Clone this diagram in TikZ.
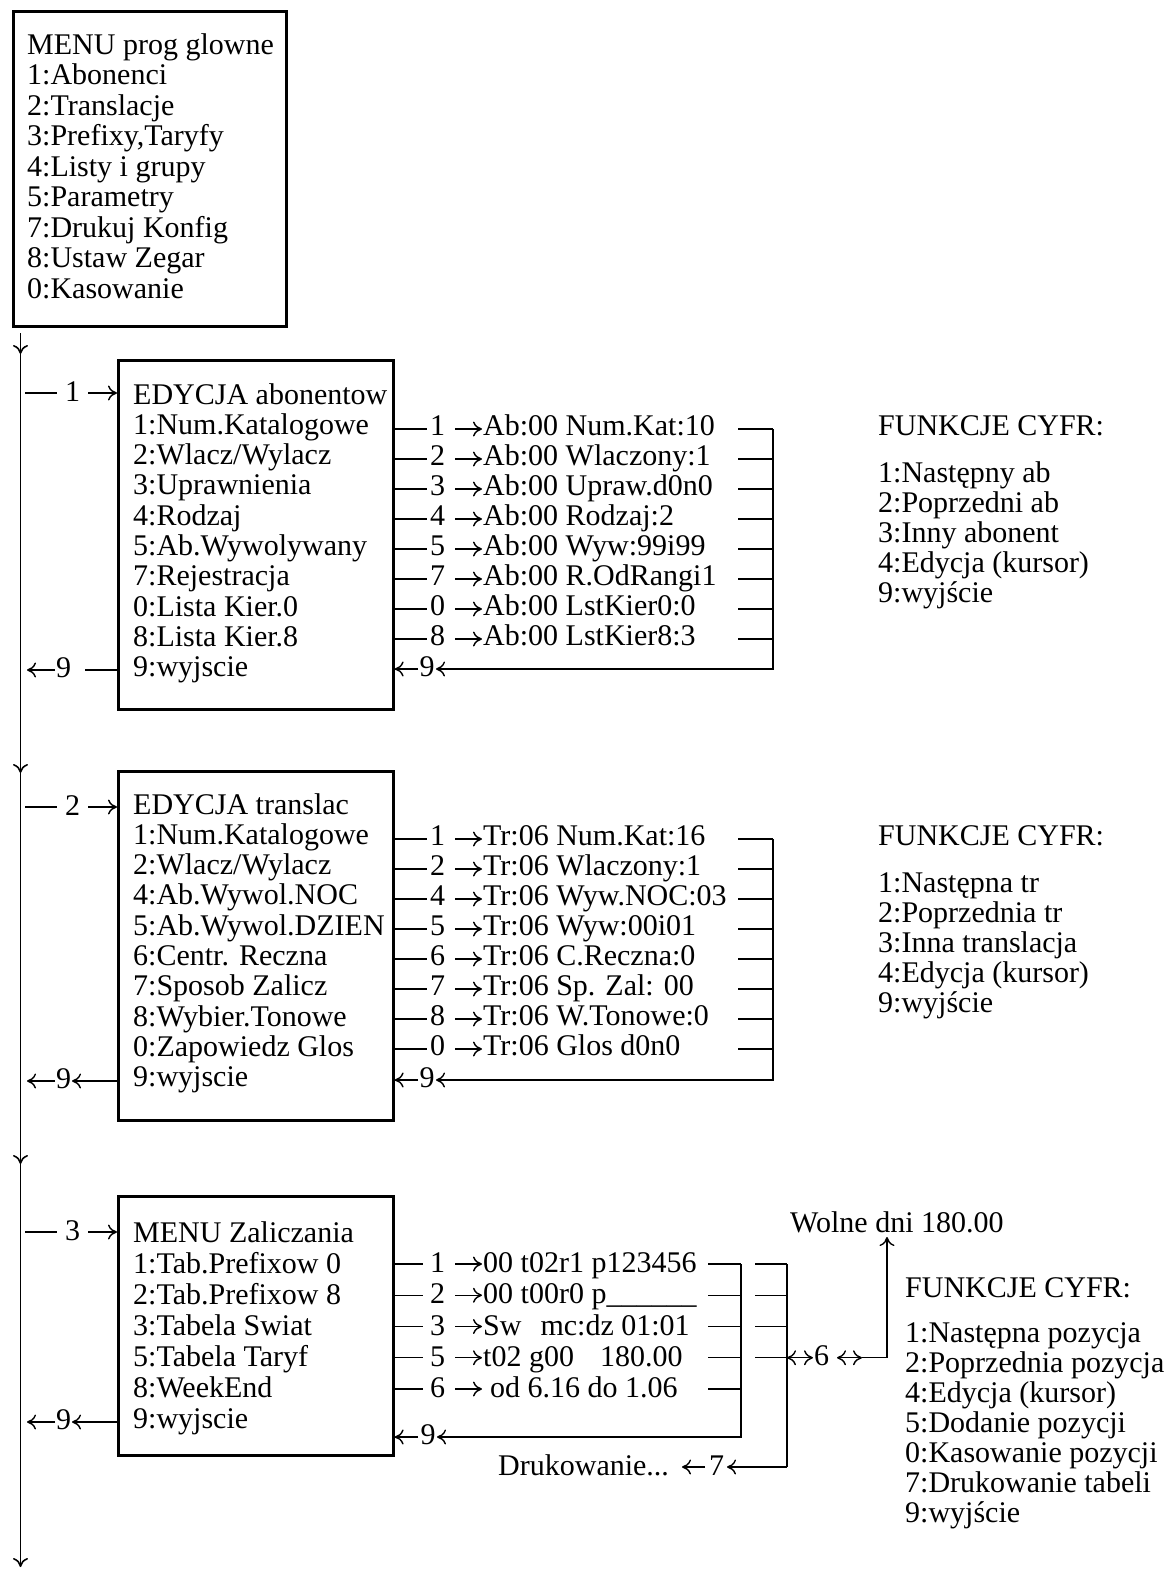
\documentclass[tikz,border=0pt]{standalone}
\usepackage{fontspec}
\setmainfont{Liberation Serif}
\usetikzlibrary{arrows.meta}
\tikzset{
  every node/.style={font=\fontsize{30}{30}\selectfont, inner sep=0pt},
  txt/.style={anchor=base west},
  lbl/.style={anchor=base},
  menubox/.style={draw, line width=2.6pt, rectangle, anchor=north west},
  con/.style={line width=1.4pt},
  mainln/.style={line width=1.6pt},
  tip/.style={-{To[length=9pt,width=15pt]}},
  dtip/.style={{To[length=9pt,width=15pt]}-{To[length=9pt,width=15pt]}},
}
\begin{document}
\begin{tikzpicture}[x=1pt,y=-1pt]
\useasboundingbox (0,0) rectangle (1175,1569);

% ---------------- boxes ----------------
\node[menubox, minimum width=273pt, minimum height=315pt] (top) at (12,10) {};
\node[menubox, minimum width=275pt, minimum height=349pt] (b1) at (117,359) {};
\node[menubox, minimum width=275pt, minimum height=349pt] (b2) at (117,770) {};
\node[menubox, minimum width=275pt, minimum height=259pt] (b3) at (117,1195) {};

% ---------------- box texts ----------------
\foreach \t [count=\i from 0] in {MENU prog glowne, 1:Abonenci, 2:Translacje, {3:Prefixy,Taryfy}, 4:Listy i grupy, 5:Parametry, 7:Drukuj Konfig, 8:Ustaw Zegar, 0:Kasowanie}
  \node[txt] (topt\i) at (27,{54+30.5*\i}) {\t};
\foreach \t [count=\i from 0] in {EDYCJA abonentow, 1:Num.Katalogowe, 2:Wlacz/Wylacz, 3:Uprawnienia, 4:Rodzaj, 5:Ab.Wywolywany, 7:Rejestracja, 0:Lista Kier.0, 8:Lista Kier.8, 9:wyjscie}
  \node[txt] (b1t\i) at (133,{404+30.3*\i}) {\t};
\foreach \t [count=\i from 0] in {EDYCJA translac, 1:Num.Katalogowe, 2:Wlacz/Wylacz, 4:Ab.Wywol.NOC, 5:Ab.Wywol.DZIEN, 6:Centr. Reczna, 7:Sposob Zalicz, 8:Wybier.Tonowe, 0:Zapowiedz Glos, 9:wyjscie}
  \node[txt] (b2t\i) at (133,{814+30.3*\i}) {\t};
\foreach \t [count=\i from 0] in {MENU Zaliczania, 1:Tab.Prefixow 0, 2:Tab.Prefixow 8, 3:Tabela Swiat, 5:Tabela Taryf, 8:WeekEnd, 9:wyjscie}
  \node[txt] (b3t\i) at (133,{1242+31*\i}) {\t};

% ---------------- main vertical line ----------------
\coordinate (m0) at (20.5,333);
\coordinate (m1) at (20.5,354);
\coordinate (m2) at (20.5,773);
\coordinate (m3) at (20.5,1164);
\coordinate (m4) at (20.5,1567);
\draw[mainln,tip] (m0) -- (m1);
\draw[mainln,tip] (m1) -- (m2);
\draw[mainln,tip] (m2) -- (m3);
\draw[mainln,tip] (m3) -- (m4);

% ---------------- entries from main line ----------------
\foreach \n/\yy/\bx in {1/393/b1, 2/807/b2, 3/1232/b3} {
  \coordinate (in\n s) at (25,\yy);
  \coordinate (in\n e) at (88,\yy);
  \draw[con] (in\n s) -- (57,\yy);
  \node[lbl] (in\n) at (72.5,{\yy+8}) {\n};
  \draw[con,tip] (in\n e) -- (\bx.west |- in\n e);
}

% ---------------- exits to main line ----------------
\coordinate (x1) at (85,670);
\draw[con] (b1.west |- x1) -- (x1);
\node[lbl] (x1n) at (63.5,677) {9};
\draw[con,tip] (55,670) -- (27,670);

\foreach \n/\yy/\bx in {2/1081/b2, 3/1422/b3} {
  \coordinate (x\n) at (72,\yy);
  \draw[con,tip] (\bx.west |- x\n) -- (x\n);
  \node[lbl] (x\n n) at (63.5,{\yy+7}) {9};
  \draw[con,tip] (55,\yy) -- (27,\yy);
}

% ---------------- box 1 right side ----------------
\foreach \n/\t [count=\i from 0] in {1/Ab:00 Num.Kat:10, 2/Ab:00 Wlaczony:1, 3/Ab:00 Upraw.d0n0, 4/Ab:00 Rodzaj:2, 5/Ab:00 Wyw:99i99, 7/Ab:00 R.OdRangi1, 0/Ab:00 LstKier0:0, 8/Ab:00 LstKier8:3} {
  \coordinate (r1\i) at (427,{429+30*\i});
  \draw[con] (b1.east |- r1\i) -- (r1\i);
  \node[txt] (b1n\i) at (430,{435.5+30*\i}) {\n};
  \draw[con,tip] (455,{429+30*\i}) -- (482,{429+30*\i});
  \node[txt] (b1r\i) at (483,{435.5+30*\i}) {\t};
  \draw[con] (738,{429+30*\i}) -- (773,{429+30*\i});
}
\coordinate (bus1t) at (773,429);
\coordinate (bus1b) at (773,669);
\draw[con,tip] (bus1t) -- (bus1b) -- (436,669);
\node[lbl] (b1back) at (427,676.5) {9};
\draw[con,tip] (418,669) -- (b1.east |- bus1b);

% ---------------- box 2 right side ----------------
\foreach \n/\t [count=\i from 0] in {1/Tr:06 Num.Kat:16, 2/Tr:06 Wlaczony:1, 4/Tr:06 Wyw.NOC:03, 5/Tr:06 Wyw:00i01, 6/Tr:06 C.Reczna:0, 7/Tr:06 Sp. Zal: 00, 8/Tr:06 W.Tonowe:0, 0/Tr:06 Glos d0n0} {
  \coordinate (r2\i) at (427,{839+30*\i});
  \draw[con] (b2.east |- r2\i) -- (r2\i);
  \node[txt] (b2n\i) at (430,{845.5+30*\i}) {\n};
  \draw[con,tip] (455,{839+30*\i}) -- (482,{839+30*\i});
  \node[txt] (b2r\i) at (483,{845.5+30*\i}) {\t};
  \draw[con] (738,{839+30*\i}) -- (773,{839+30*\i});
}
\coordinate (bus2t) at (773,839);
\coordinate (bus2b) at (773,1080);
\draw[con,tip] (bus2t) -- (bus2b) -- (436,1080);
\node[lbl] (b2back) at (427,1087.5) {9};
\draw[con,tip] (418,1080) -- (b2.east |- bus2b);

% ---------------- box 3 right side ----------------
\foreach \n/\t [count=\i from 0] in {1/00 t02r1 p123456, 2/00 t00r0 p\_\_\_\_\_\_, 3/Sw\hspace*{19pt}mc:dz 01:01, 5/t02 g00\hspace*{26pt}180.00, 6/\hspace*{7pt}od 6.16 do 1.06} {
  \coordinate (r3\i) at (423,{1264+31.25*\i});
  \draw[con] (b3.east |- r3\i) -- (r3\i);
  \node[txt] (b3n\i) at (430,{1272.5+31.25*\i}) {\n};
  \draw[con,tip] (455,{1264+31.25*\i}) -- (482,{1264+31.25*\i});
  \node[txt] (b3r\i) at (483,{1272.5+31.25*\i}) {\t};
  \draw[con] (708,{1264+31.25*\i}) -- (741,{1264+31.25*\i});
}
\coordinate (bus3t) at (741,1264);
\coordinate (bus3b) at (741,1437);
\draw[con,tip] (bus3t) -- (bus3b) -- (437,1437);
\node[lbl] (b3back) at (428,1444.5) {9};
\draw[con,tip] (418,1437) -- (b3.east |- bus3b);

% second bus
\foreach \i in {0,1,2,3}
  \draw[con] (755,{1264+31.25*\i}) -- (787,{1264+31.25*\i});
\coordinate (bus4t) at (787,1264);
\coordinate (bus4b) at (787,1467);
\draw[con] (bus4t) -- (bus4b);

% print branch
\coordinate (p7) at (727,1467);
\draw[con,tip] (bus4b) -- (p7);
\node[lbl] (p7n) at (716.5,1475) {7};
\draw[con,tip] (705,1467) -- (682,1467);
\node[txt] (druk) at (498,1475) {Drukowanie...};

% 6 branch
\coordinate (s6) at (787,1357.75);
\draw[con,dtip] (s6) -- (813,1357.75);
\node[lbl] (s6n) at (821.5,1365) {6};
\draw[con,dtip] (837,1357.75) -- (862,1357.75);
\coordinate (wd) at (887,1237);
\draw[con,tip] (862,1357.75) -- (887,1357.75) -- (wd);
\node[txt] (wolne) at (790,1232) {Wolne dni 180.00};

% ---------------- FUNKCJE CYFR lists ----------------
\node[txt] (f1h) at (878,435) {FUNKCJE CYFR:};
\foreach \t [count=\i from 0] in {1:Następny ab, 2:Poprzedni ab, 3:Inny abonent, 4:Edycja (kursor), 9:wyjście}
  \node[txt] (f1t\i) at (878,{482+30*\i}) {\t};
\node[txt] (f2h) at (878,845) {FUNKCJE CYFR:};
\foreach \t [count=\i from 0] in {1:Następna tr, 2:Poprzednia tr, 3:Inna translacja, 4:Edycja (kursor), 9:wyjście}
  \node[txt] (f2t\i) at (878,{892+30*\i}) {\t};
\node[txt] (f3h) at (905,1297) {FUNKCJE CYFR:};
\foreach \t [count=\i from 0] in {1:Następna pozycja, 2:Poprzednia pozycja, 4:Edycja (kursor), 5:Dodanie pozycji, 0:Kasowanie pozycji, 7:Drukowanie tabeli, 9:wyjście}
  \node[txt] (f3t\i) at (905,{1342+30*\i}) {\t};
\end{tikzpicture}
\end{document}
